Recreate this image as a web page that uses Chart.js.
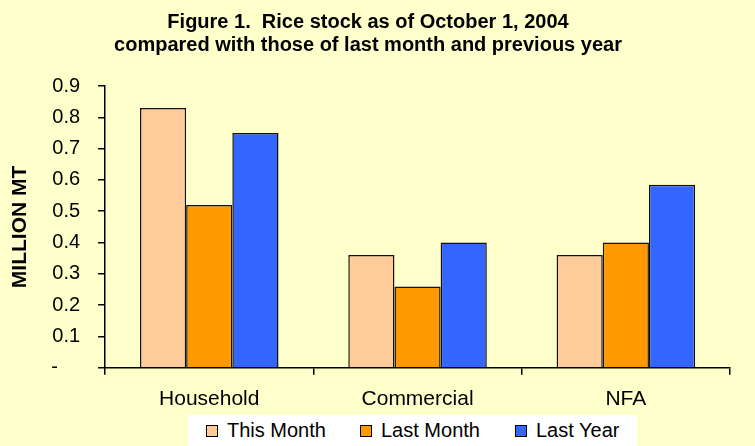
<!DOCTYPE html>
<html>
<head>
<meta charset="utf-8">
<script src="https://cdn.jsdelivr.net/npm/chart.js@4"></script>
<style>
  html, body { margin: 0; padding: 0; background: #FFFFCC; }
  #wrap { position: relative; width: 755px; height: 446px; overflow: hidden; }
  #legend { position: absolute; left: 188px; top: 415px; width: 449px; height: 31px; background: #FFFFFF;
            font-family: 'Liberation Sans', Arial, sans-serif; font-size: 20px; color: #000; }
  .item { position: absolute; top: 4px; line-height: 23px; white-space: nowrap; }
  .swatch { display: inline-block; width: 10px; height: 10px; border: 1px solid #000; margin-right: 9px; vertical-align: 0px; }
</style>
</head>
<body>
<div id="wrap">
  <canvas id="chart" width="755" height="446"></canvas>
  <div id="legend"></div>
</div>
<script>
const categories = ['Household', 'Commercial', 'NFA'];
const thisMonth = [0.83, 0.36, 0.36];
const lastMonth = [0.52, 0.26, 0.40];
const lastYear = [0.75, 0.40, 0.585];
const seriesNames = ['This Month', 'Last Month', 'Last Year'];
const seriesColors = ['#FFCC99', '#FF9900', '#3366FF'];
const titleLines = ['Figure 1.  Rice stock as of October 1, 2004', 'compared with those of last month and previous year'];

const FONT = 'Liberation Sans, Arial, sans-serif';

const chart = new Chart(document.getElementById('chart'), {
    type: 'bar',
    data: {
        labels: categories,
        datasets: [thisMonth, lastMonth, lastYear].map((values, i) => ({
            label: seriesNames[i],
            data: values,
            backgroundColor: seriesColors[i],
            borderColor: '#111',
            borderWidth: 1.5,
            categoryPercentage: 0.665,
            barPercentage: 1
        }))
    },
    options: {
        responsive: false,
        animation: false,
        layout: { padding: { top: 4, right: 25, left: 6, bottom: 22 } },
        plugins: {
            title: {
                display: true,
                text: titleLines,
                color: '#000',
                font: { family: FONT, size: 20, weight: 'bold', lineHeight: 1.15 },
                padding: { top: 7, bottom: 29 }
            },
            legend: { display: false },
            tooltip: { enabled: false }
        },
        scales: {
            x: {
                border: { color: '#000', width: 1.5 },
                grid: { drawOnChartArea: false, color: '#000', tickLength: 7, lineWidth: 1.5 },
                ticks: { color: '#000', font: { family: FONT, size: 21 }, padding: 12 }
            },
            y: {
                min: 0,
                max: 0.9,
                border: { color: '#000', width: 1.5 },
                grid: { drawOnChartArea: false, color: '#000', tickLength: 7, lineWidth: 1.5 },
                ticks: {
                    stepSize: 0.1,
                    color: '#000',
                    font: { family: FONT, size: 20 },
                    padding: 18,
                    callback: v => (Math.abs(v) < 1e-9 ? '-    ' : v.toFixed(1))
                },
                title: {
                    display: true,
                    text: 'MILLION MT',
                    color: '#000',
                    font: { family: FONT, size: 21, weight: 'bold' },
                    padding: { top: 2, bottom: 0 }
                }
            }
        }
    }
});

// legend box under the plot, like the original
const legendLefts = [18, 172, 327];
const legendDiv = document.getElementById('legend');
seriesNames.forEach((name, i) => {
    const item = document.createElement('div');
    item.className = 'item';
    item.style.left = legendLefts[i] + 'px';
    const sw = document.createElement('span');
    sw.className = 'swatch';
    sw.style.background = seriesColors[i];
    item.appendChild(sw);
    item.appendChild(document.createTextNode(name));
    legendDiv.appendChild(item);
});
</script>
</body>
</html>
